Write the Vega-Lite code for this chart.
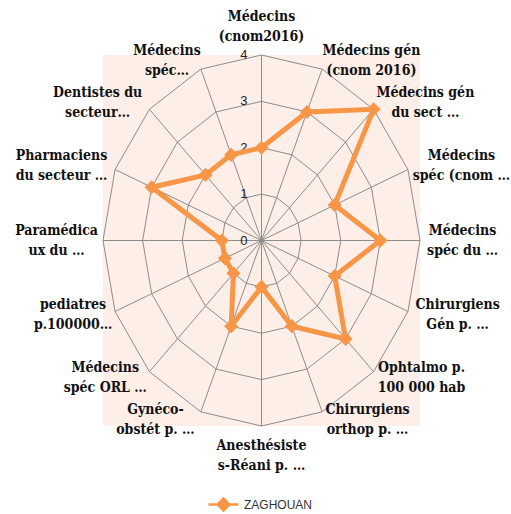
{
  "$schema": "https://vega.github.io/schema/vega-lite/v6.json",
  "width": 317,
  "height": 371,
  "autosize": "none",
  "padding": {"left": 103, "top": 55, "right": 91, "bottom": 88},
  "background": "white",
  "view": {"fill": "#fdeee8", "stroke": null},
  "datasets": {
    "cats": [
      {"i": 0, "label": ["Médecins", "(cnom2016)"], "value": 2, "series": "ZAGHOUAN"},
      {"i": 1, "label": ["Médecins gén", "(cnom 2016)"], "value": 3, "series": "ZAGHOUAN"},
      {"i": 2, "label": ["Médecins gén", "du sect …"], "value": 4, "series": "ZAGHOUAN"},
      {"i": 3, "label": ["Médecins", "spéc (cnom …"], "value": 2, "series": "ZAGHOUAN"},
      {"i": 4, "label": ["Médecins", "spéc du …"], "value": 3, "series": "ZAGHOUAN"},
      {"i": 5, "label": ["Chirurgiens", "Gén p. …"], "value": 2, "series": "ZAGHOUAN"},
      {"i": 6, "label": ["Ophtalmo p.", "100 000 hab"], "value": 3, "series": "ZAGHOUAN"},
      {"i": 7, "label": ["Chirurgiens", "orthop p. …"], "value": 2, "series": "ZAGHOUAN"},
      {"i": 8, "label": ["Anesthésiste", "s-Réani p. …"], "value": 1, "series": "ZAGHOUAN"},
      {"i": 9, "label": ["Gynéco-", "obstét p. …"], "value": 2, "series": "ZAGHOUAN"},
      {"i": 10, "label": ["Médecins", "spéc ORL …"], "value": 1, "series": "ZAGHOUAN"},
      {"i": 11, "label": ["pediatres", "p.100000…"], "value": 1, "series": "ZAGHOUAN"},
      {"i": 12, "label": ["Paramédica", "ux du …"], "value": 1, "series": "ZAGHOUAN"},
      {"i": 13, "label": ["Pharmaciens", "du secteur …"], "value": 3, "series": "ZAGHOUAN"},
      {"i": 14, "label": ["Dentistes du", "secteur…"], "value": 2, "series": "ZAGHOUAN"},
      {"i": 15, "label": ["Médecins", "spéc…"], "value": 2, "series": "ZAGHOUAN"}
    ],
    "levels": [{"lv": 0}, {"lv": 1}, {"lv": 2}, {"lv": 3}, {"lv": 4}]
  },
  "layer": [
    {
      "data": {"name": "cats"},
      "transform": [
        {"calculate": "[1,2,3,4]", "as": "lv"},
        {"flatten": ["lv"]},
        {"calculate": "datum.lv*sin(datum.i*PI/8)", "as": "gx"},
        {"calculate": "datum.lv*cos(datum.i*PI/8)", "as": "gy"}
      ],
      "mark": {"type": "line", "interpolate": "linear-closed", "stroke": "#8c8c8c", "strokeWidth": 1},
      "encoding": {
        "x": {"field": "gx", "type": "quantitative", "scale": {"domain": [-4, 4], "nice": false, "zero": false}, "axis": null},
        "y": {"field": "gy", "type": "quantitative", "scale": {"domain": [-4, 4], "nice": false, "zero": false}, "axis": null},
        "detail": {"field": "lv", "type": "nominal"},
        "order": {"field": "i", "type": "quantitative"}
      }
    },
    {
      "data": {"name": "cats"},
      "transform": [
        {"calculate": "0", "as": "cx"},
        {"calculate": "4*sin(datum.i*PI/8)", "as": "sx"},
        {"calculate": "4*cos(datum.i*PI/8)", "as": "sy"}
      ],
      "mark": {"type": "rule", "stroke": "#8c8c8c", "strokeWidth": 1},
      "encoding": {
        "x": {"field": "cx", "type": "quantitative", "scale": {"domain": [-4, 4], "nice": false, "zero": false}, "axis": null},
        "y": {"field": "cx", "type": "quantitative", "scale": {"domain": [-4, 4], "nice": false, "zero": false}, "axis": null},
        "x2": {"field": "sx"},
        "y2": {"field": "sy"}
      }
    },
    {
      "data": {"name": "levels"},
      "transform": [{"calculate": "0", "as": "cx"}],
      "mark": {"type": "text", "align": "right", "baseline": "middle", "dx": -14, "font": "Liberation Sans", "fontSize": 13, "color": "#222222"},
      "encoding": {
        "x": {"field": "cx", "type": "quantitative", "scale": {"domain": [-4, 4], "nice": false, "zero": false}, "axis": null},
        "y": {"field": "lv", "type": "quantitative", "scale": {"domain": [-4, 4], "nice": false, "zero": false}, "axis": null},
        "text": {"field": "lv", "type": "quantitative"}
      }
    },
    {
      "data": {"name": "cats"},
      "transform": [
        {"calculate": "datum.value*sin(datum.i*PI/8)", "as": "px"},
        {"calculate": "datum.value*cos(datum.i*PI/8)", "as": "py"}
      ],
      "mark": {"type": "line", "interpolate": "linear-closed", "strokeWidth": 5},
      "encoding": {
        "x": {"field": "px", "type": "quantitative", "scale": {"domain": [-4, 4], "nice": false, "zero": false}, "axis": null},
        "y": {"field": "py", "type": "quantitative", "scale": {"domain": [-4, 4], "nice": false, "zero": false}, "axis": null},
        "order": {"field": "i", "type": "quantitative"},
        "color": {
          "field": "series",
          "type": "nominal",
          "scale": {"range": ["#F79646"]},
          "legend": {
            "orient": "none",
            "legendX": 104,
            "legendY": 433,
            "title": null,
            "padding": 0,
            "symbolType": "M-1,0L1,0M0,-0.4L0.4,0L0,0.4L-0.4,0Z",
            "symbolSize": 900,
            "symbolStrokeWidth": 2.5,
            "labelFont": "Liberation Sans",
            "labelFontSize": 12,
            "labelColor": "#333333",
            "labelOffset": 4,
            "symbolFillColor": "#F79646"
          }
        }
      }
    },
    {
      "data": {"name": "cats"},
      "transform": [
        {"calculate": "datum.value*sin(datum.i*PI/8)", "as": "px"},
        {"calculate": "datum.value*cos(datum.i*PI/8)", "as": "py"}
      ],
      "mark": {"type": "point", "shape": "diamond", "filled": true, "size": 200, "color": "#F79646", "opacity": 1},
      "encoding": {
        "x": {"field": "px", "type": "quantitative", "scale": {"domain": [-4, 4], "nice": false, "zero": false}, "axis": null},
        "y": {"field": "py", "type": "quantitative", "scale": {"domain": [-4, 4], "nice": false, "zero": false}, "axis": null}
      }
    },
    {
      "data": {"name": "cats"},
      "transform": [
        {"filter": "datum.i % 8 != 0"},
        {"calculate": "sin(datum.i*PI/8)", "as": "s"},
        {"calculate": "max(length(datum.label[0]), length(datum.label[1]))*3.85/39.625", "as": "hw"},
        {"calculate": "4.2*datum.s + (datum.s > 0 ? 1 : -1)*datum.hw", "as": "lx"},
        {"calculate": "4.2*cos(datum.i*PI/8)", "as": "ly"}
      ],
      "mark": {"type": "text", "align": "center", "baseline": "middle", "dy": -10, "font": "DejaVu Serif Condensed", "fontWeight": "bold", "fontSize": 14, "lineHeight": 20, "color": "#111111"},
      "encoding": {
        "x": {"field": "lx", "type": "quantitative", "scale": {"domain": [-4, 4], "nice": false, "zero": false}, "axis": null},
        "y": {"field": "ly", "type": "quantitative", "scale": {"domain": [-4, 4], "nice": false, "zero": false}, "axis": null},
        "text": {"field": "label", "type": "nominal"}
      }
    },
    {
      "data": {"name": "cats"},
      "transform": [
        {"filter": "datum.i % 8 == 0"},
        {"calculate": "0", "as": "lx"},
        {"calculate": "datum.i == 0 ? 4.6 : -4.65", "as": "ly"}
      ],
      "mark": {"type": "text", "align": "center", "baseline": "middle", "dy": -10, "font": "DejaVu Serif Condensed", "fontWeight": "bold", "fontSize": 14, "lineHeight": 20, "color": "#111111"},
      "encoding": {
        "x": {"field": "lx", "type": "quantitative", "scale": {"domain": [-4, 4], "nice": false, "zero": false}, "axis": null},
        "y": {"field": "ly", "type": "quantitative", "scale": {"domain": [-4, 4], "nice": false, "zero": false}, "axis": null},
        "text": {"field": "label", "type": "nominal"}
      }
    }
  ]
}
